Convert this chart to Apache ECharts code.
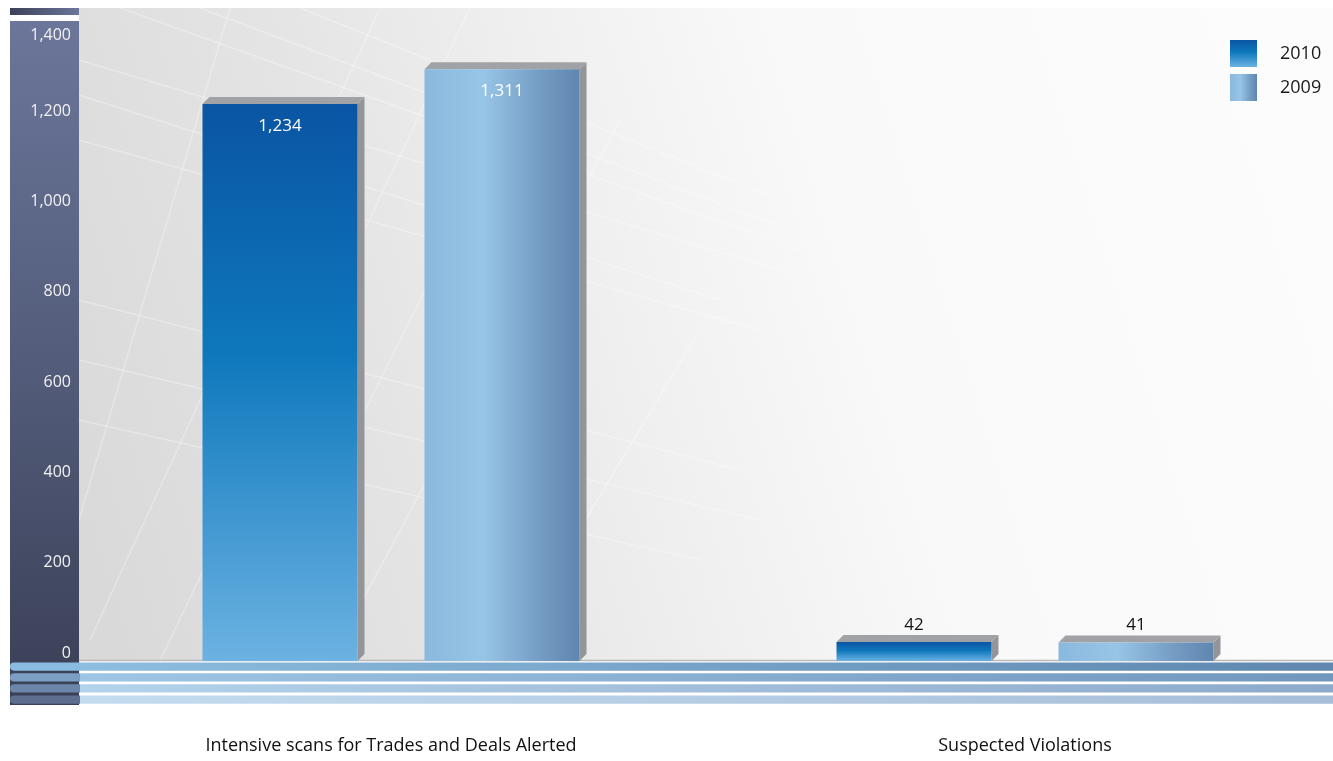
<!DOCTYPE html>
<html>
<head>
<meta charset="utf-8">
<script src="https://cdn.jsdelivr.net/npm/echarts@6/dist/echarts.min.js"></script>
<style>
  html, body { margin: 0; padding: 0; background: #ffffff; }
  #chart { width: 1333px; height: 761px; }
</style>
</head>
<body>
<div id="chart"></div>
<script>
// Market surveillance results, 2010 vs 2009
const categories = ['Intensive scans for Trades and Deals Alerted', 'Suspected Violations'];
const seriesNames = ['2010', '2009'];
const values2010 = [1234, 42];
const values2009 = [1311, 41];
const yTicks = [0, 200, 400, 600, 800, 1000, 1200, 1400];

const FONT = '"Open Sans", Lato, sans-serif';
const BAR_W = 155;
const BAR_GAP = 67;
const DEPTH = 7;

const fill2010 = new echarts.graphic.LinearGradient(0, 0, 0, 1, [
  { offset: 0, color: '#0a55a3' },
  { offset: 0.45, color: '#0e78bc' },
  { offset: 1, color: '#6cb2e2' }
]);
const fill2009 = new echarts.graphic.LinearGradient(0, 0, 1, 0, [
  { offset: 0, color: '#8ab9de' },
  { offset: 0.38, color: '#97c5e6' },
  { offset: 0.72, color: '#779fc6' },
  { offset: 1, color: '#5e86ae' }
]);

function fmtNum(v) {
  return v.toLocaleString('en-US');
}

// Boxy bar: gradient front face, grey top and right side for depth
function boxBar(side, fill) {
  return function (params, api) {
    const cat = api.value(0);
    const val = api.value(1);
    const topPt = api.coord([cat, val]);
    const basePt = api.coord([cat, 0]);
    const cx = topPt[0] + side * (BAR_W + BAR_GAP) / 2;
    const x0 = cx - BAR_W / 2;
    const x1 = cx + BAR_W / 2;
    const y0 = topPt[1];
    const yb = basePt[1];
    const h = yb - y0;
    const inside = h > 40;
    return {
      type: 'group',
      children: [
        {
          type: 'polygon',
          shape: { points: [[x1, y0], [x1 + DEPTH, y0 - DEPTH], [x1 + DEPTH, yb - DEPTH], [x1, yb]] },
          style: { fill: '#949598' }
        },
        {
          type: 'polygon',
          shape: { points: [[x0, y0], [x0 + DEPTH, y0 - DEPTH], [x1 + DEPTH, y0 - DEPTH], [x1, y0]] },
          style: { fill: '#a1a2a5' }
        },
        {
          type: 'rect',
          shape: { x: x0, y: y0, width: BAR_W, height: h },
          style: { fill: fill }
        },
        {
          type: 'text',
          style: {
            text: fmtNum(val),
            x: cx,
            y: inside ? y0 + 22 : y0 - DEPTH - 10,
            align: 'center',
            verticalAlign: 'middle',
            fill: inside ? '#ffffff' : '#111111',
            fontSize: 17,
            fontFamily: FONT
          }
        }
      ]
    };
  };
}

// Floor stripes below the baseline
const stripeY = [662.5, 673.3, 684.3, 695.5];
const stripeOuter = [
  ['#8dbde0', '#5f87af'],
  ['#9dc6e5', '#7097bd'],
  ['#b3d2eb', '#8eaacb'],
  ['#c4dcef', '#a7bed9']
];
const stripeInner = ['#8abbe0', '#7b9ec2', '#6b86a9', '#5d6f8f'];

const graphics = [
  {
    type: 'rect', z: -20,
    shape: { x: 79, y: 8, width: 1254, height: 653 },
    style: {
      fill: new echarts.graphic.LinearGradient(0, 0.8, 1, 0.2, [
        { offset: 0, color: '#d9d9d9' },
        { offset: 0.25, color: '#e4e4e4' },
        { offset: 0.45, color: '#f0f0f0' },
        { offset: 0.62, color: '#f9f9f9' },
        { offset: 1, color: '#fcfcfc' }
      ])
    }
  }
];

// faint architectural lines in the backdrop
const texLines = [
  [[79, 60], [780, 270]], [[79, 140], [760, 330]], [[120, 8], [800, 250]],
  [[79, 300], [740, 470]], [[79, 420], [700, 560]], [[300, 8], [780, 200]],
  [[79, 95], [720, 300]], [[79, 360], [760, 520]], [[200, 8], [790, 230]],
  [[90, 640], [380, 8]], [[160, 661], [470, 8]], [[330, 661], [620, 120]],
  [[79, 520], [230, 8]], [[500, 661], [700, 330]], [[240, 661], [540, 60]]
];
texLines.forEach(function (p) {
  graphics.push({
    type: 'line', z: -19,
    shape: { x1: p[0][0], y1: p[0][1], x2: p[1][0], y2: p[1][1] },
    style: { stroke: '#ffffff', lineWidth: 1.5, opacity: 0.3 }
  });
});

graphics.push(
  {
    type: 'rect', z: -10,
    shape: { x: 10, y: 8, width: 69, height: 7 },
    style: {
      fill: new echarts.graphic.LinearGradient(0, 0, 1, 0, [
        { offset: 0, color: '#3b4158' },
        { offset: 1, color: '#6b769a' }
      ])
    }
  },
  {
    type: 'rect', z: -10,
    shape: { x: 10, y: 21, width: 69, height: 684 },
    style: {
      fill: new echarts.graphic.LinearGradient(0, 0, 0, 1, [
        { offset: 0, color: '#6b769a' },
        { offset: 0.5, color: '#535c7a' },
        { offset: 1, color: '#393f55' }
      ])
    }
  },
  {
    type: 'line', z: -5,
    shape: { x1: 79, y1: 660.5, x2: 1333, y2: 660.5 },
    style: { stroke: '#b9b9b9', lineWidth: 1.5 }
  }
);

stripeY.forEach(function (y, i) {
  graphics.push({
    type: 'rect', z: -5,
    shape: { x: 79, y: y, width: 1254, height: 8.2 },
    style: {
      fill: new echarts.graphic.LinearGradient(0, 0, 1, 0, [
        { offset: 0, color: stripeOuter[i][0] },
        { offset: 1, color: stripeOuter[i][1] }
      ])
    }
  });
  graphics.push({
    type: 'rect', z: -5,
    shape: { x: 10, y: y, width: 70, height: 8.2, r: [4.1, 0, 0, 4.1] },
    style: { fill: stripeInner[i] }
  });
});

const chart = echarts.init(document.getElementById('chart'), null, { renderer: 'canvas' });

chart.setOption({
  animation: false,
  backgroundColor: '#ffffff',
  graphic: graphics,
  grid: { left: 74, top: 29, width: 1268, bottom: 100, containLabel: false, outerBoundsMode: 'none' },
  legend: {
    data: seriesNames,
    orient: 'vertical',
    left: 1230,
    top: 40,
    padding: 0,
    itemWidth: 27,
    itemHeight: 27,
    itemGap: 7,
    icon: 'rect',
    textStyle: { color: '#1a1a1a', fontSize: 18, fontFamily: FONT, padding: [0, 0, 0, 18] }
  },
  xAxis: {
    type: 'category',
    data: categories,
    axisLine: { show: false },
    axisTick: { show: false },
    splitLine: { show: false },
    axisLabel: {
      margin: 76,
      color: '#111111',
      fontSize: 18,
      fontFamily: FONT,
      interval: 0
    }
  },
  yAxis: {
    type: 'value',
    min: yTicks[0],
    max: yTicks[yTicks.length - 1],
    interval: yTicks[1] - yTicks[0],
    axisLine: { show: false },
    axisTick: { show: false },
    splitLine: { show: false },
    axisLabel: {
      margin: 3,
      color: '#f2f2f2',
      fontSize: 16,
      fontFamily: FONT,
      align: 'right',
      verticalAlign: 'middle',
      formatter: function (v) {
        return v === yTicks[yTicks.length - 1] ? '{t|' + fmtNum(v) + '}' : '{n|' + fmtNum(v) + '}';
      },
      rich: {
        n: { color: '#f2f2f2', fontSize: 16, fontFamily: FONT, padding: [0, 0, 16, 0] },
        t: { color: '#f2f2f2', fontSize: 16, fontFamily: FONT, padding: [12, 0, 0, 0] }
      }
    }
  },
  series: [
    {
      name: seriesNames[0],
      type: 'custom',
      renderItem: boxBar(-1, fill2010),
      itemStyle: { color: fill2010 },
      encode: { x: 0, y: 1 },
      data: values2010.map(function (v, i) { return [i, v]; }),
      clip: false,
      z: 3
    },
    {
      name: seriesNames[1],
      type: 'custom',
      renderItem: boxBar(1, fill2009),
      itemStyle: { color: fill2009 },
      encode: { x: 0, y: 1 },
      data: values2009.map(function (v, i) { return [i, v]; }),
      clip: false,
      z: 3
    }
  ]
});
</script>
</body>
</html>
